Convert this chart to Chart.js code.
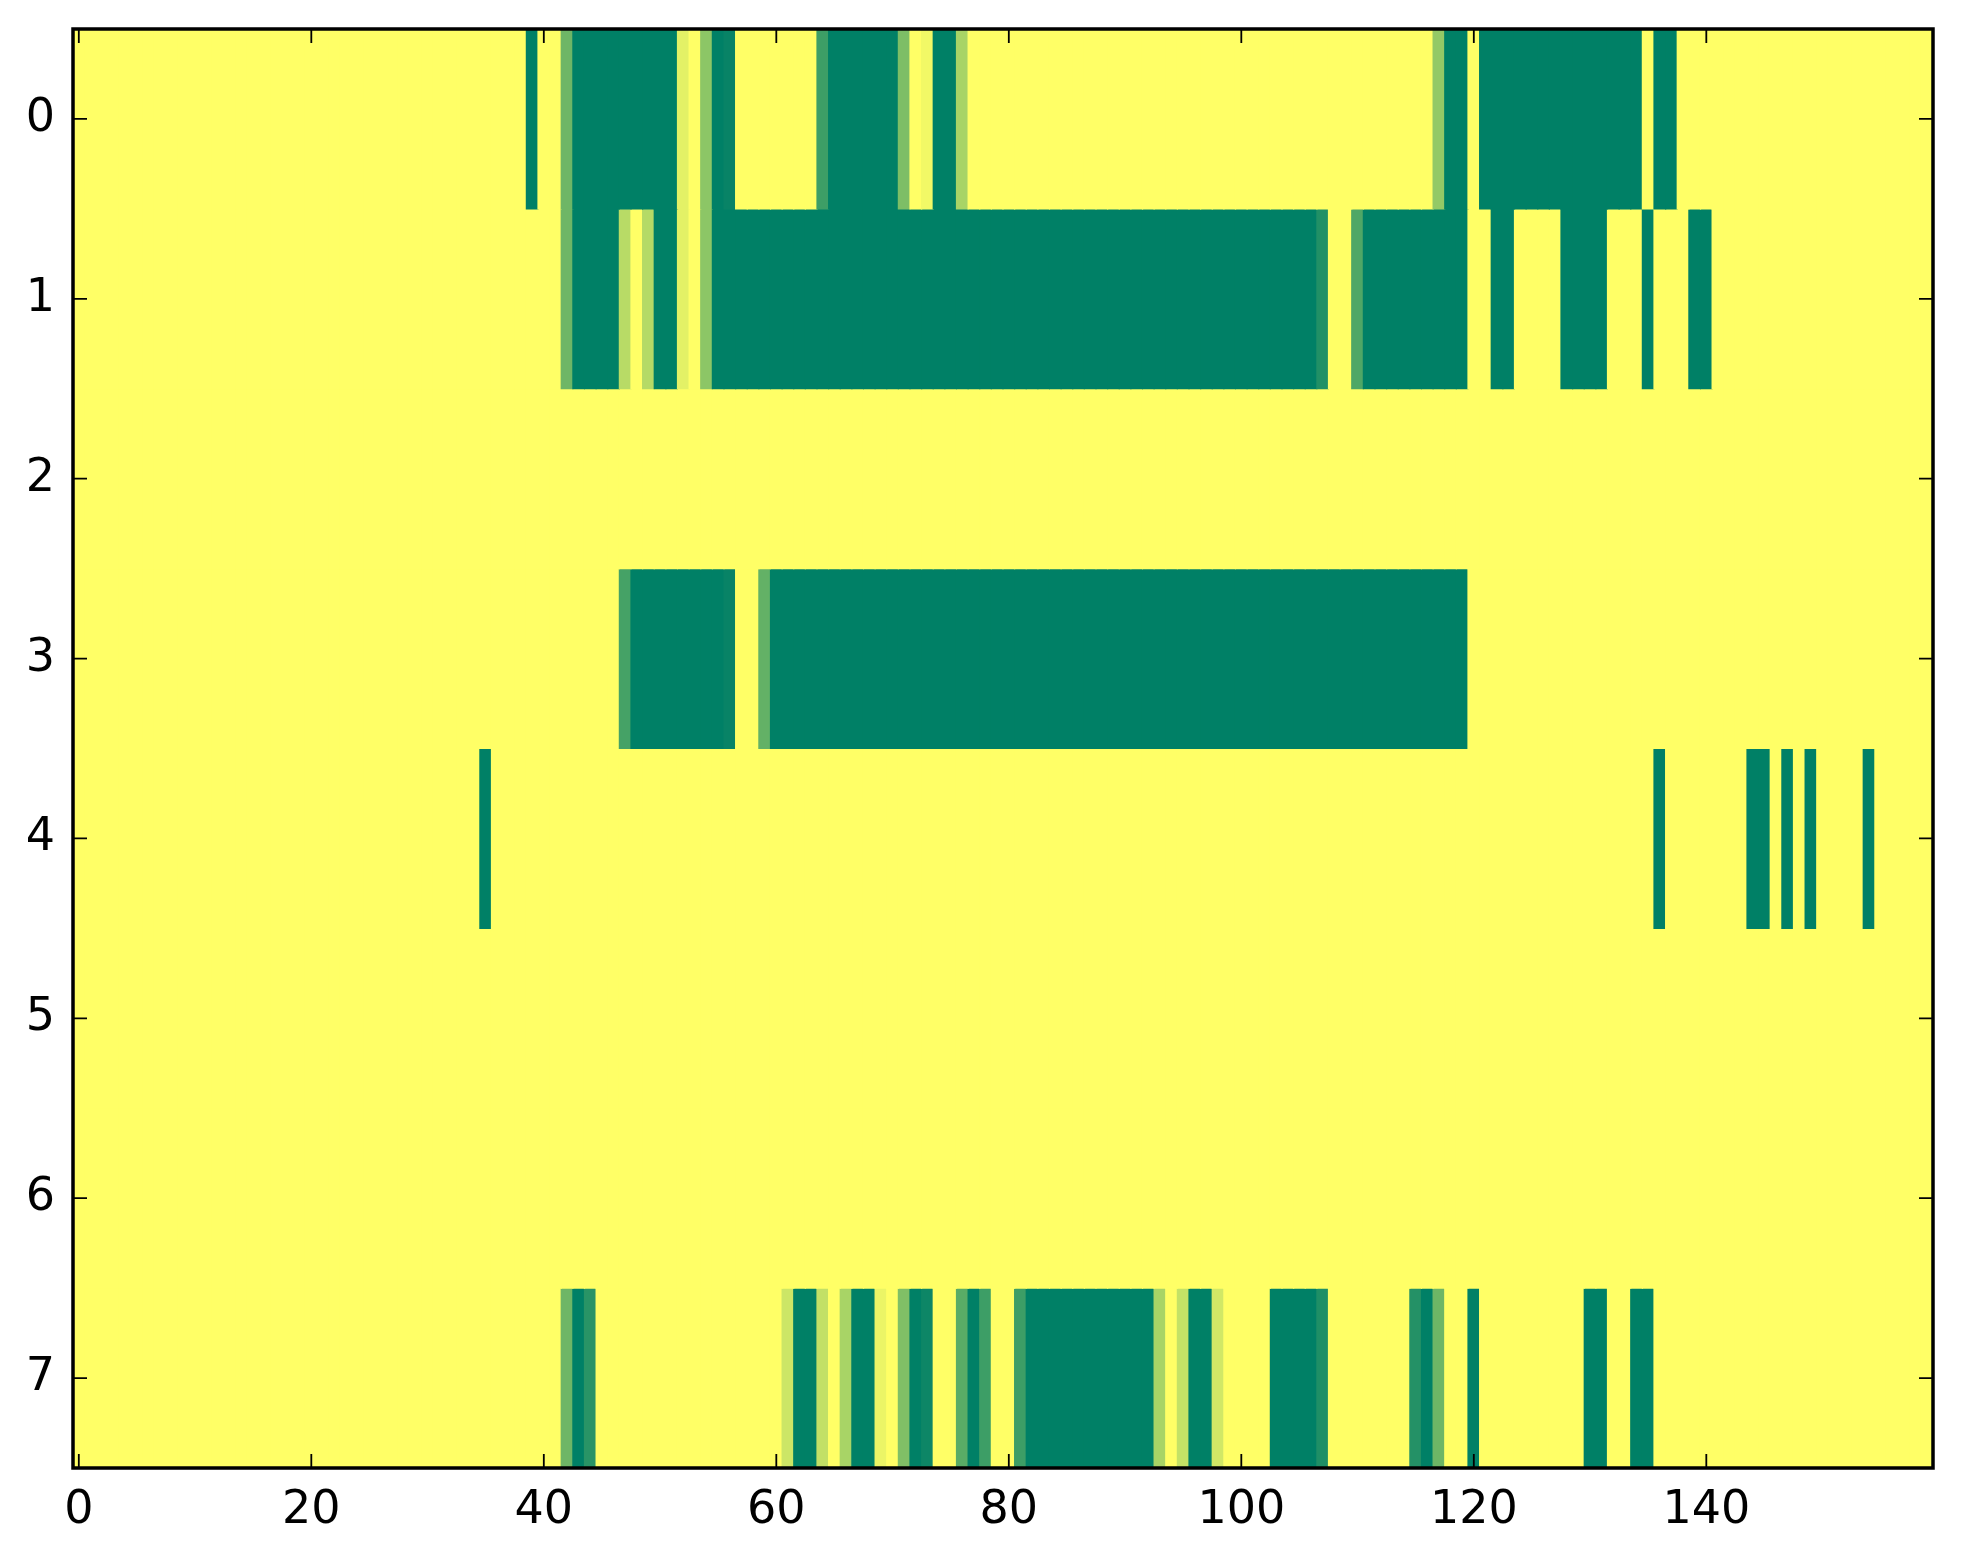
<!DOCTYPE html>
<html lang="en">
<head>
  <meta charset="UTF-8" />
  <title>Heatmap</title>
  <script src="https://cdn.jsdelivr.net/npm/chart.js"></script>
  <style>
    body {
      margin: 0;
      background: #ffffff;
    }
    #heat {
      display: block;
    }
  </style>
</head>
<body>
  <canvas id="heat" width="1963" height="1564"></canvas>

  <script>
    // rows of the image, 160 columns each (values 0..1, summer_r colour map)
    const rowLabels = ['0', '1', '2', '3', '4', '5', '6', '7'];
    const xTickValues = [0, 20, 40, 60, 80, 100, 120, 140];

    const row0 = [
      0,0,0,0,0,0,0,0,0,0,0,0,0,0,0,0,0,0,0,0,
      0,0,0,0,0,0,0,0,0,0,0,0,0,0,0,0,0,0,0,1,
      0,0,.57,1,1,1,1,1,1,1,1,1,.11,0,.45,1,.97,0,0,0,
      0,0,0,0,.76,1,1,1,1,1,1,.51,0,.05,1,1,.34,0,0,0,
      0,0,0,0,0,0,0,0,0,0,0,0,0,0,0,0,0,0,0,0,
      0,0,0,0,0,0,0,0,0,0,0,0,0,0,0,0,0,.42,1,1,
      0,1,1,1,1,1,1,1,1,1,1,1,1,1,1,0,1,1,0,0,
      0,0,0,0,0,0,0,0,0,0,0,0,0,0,0,0,0,0,0,0
    ];
    const row1 = [
      0,0,0,0,0,0,0,0,0,0,0,0,0,0,0,0,0,0,0,0,
      0,0,0,0,0,0,0,0,0,0,0,0,0,0,0,0,0,0,0,0,
      0,0,.57,1,1,1,1,.28,0,.29,1,1,.11,0,.45,1,1,1,1,1,
      1,1,1,1,1,1,1,1,1,1,1,1,1,1,1,1,1,1,1,1,
      1,1,1,1,1,1,1,1,1,1,1,1,1,1,1,1,1,1,1,1,
      1,1,1,1,1,1,1,.87,0,0,.69,1,1,1,1,1,1,1,1,1,
      0,0,1,1,0,0,0,0,1,1,1,1,0,0,0,1,0,0,0,1,
      1,0,0,0,0,0,0,0,0,0,0,0,0,0,0,0,0,0,0,0
    ];
    const row2 = [
      0,0,0,0,0,0,0,0,0,0,0,0,0,0,0,0,0,0,0,0,
      0,0,0,0,0,0,0,0,0,0,0,0,0,0,0,0,0,0,0,0,
      0,0,0,0,0,0,0,0,0,0,0,0,0,0,0,0,0,0,0,0,
      0,0,0,0,0,0,0,0,0,0,0,0,0,0,0,0,0,0,0,0,
      0,0,0,0,0,0,0,0,0,0,0,0,0,0,0,0,0,0,0,0,
      0,0,0,0,0,0,0,0,0,0,0,0,0,0,0,0,0,0,0,0,
      0,0,0,0,0,0,0,0,0,0,0,0,0,0,0,0,0,0,0,0,
      0,0,0,0,0,0,0,0,0,0,0,0,0,0,0,0,0,0,0,0
    ];
    const row3 = [
      0,0,0,0,0,0,0,0,0,0,0,0,0,0,0,0,0,0,0,0,
      0,0,0,0,0,0,0,0,0,0,0,0,0,0,0,0,0,0,0,0,
      0,0,0,0,0,0,0,.73,1,1,1,1,1,1,1,1,.97,0,0,.61,
      1,1,1,1,1,1,1,1,1,1,1,1,1,1,1,1,1,1,1,1,
      1,1,1,1,1,1,1,1,1,1,1,1,1,1,1,1,1,1,1,1,
      1,1,1,1,1,1,1,1,1,1,1,1,1,1,1,1,1,1,1,1,
      0,0,0,0,0,0,0,0,0,0,0,0,0,0,0,0,0,0,0,0,
      0,0,0,0,0,0,0,0,0,0,0,0,0,0,0,0,0,0,0,0
    ];
    const row4 = [
      0,0,0,0,0,0,0,0,0,0,0,0,0,0,0,0,0,0,0,0,
      0,0,0,0,0,0,0,0,0,0,0,0,0,0,0,1,0,0,0,0,
      0,0,0,0,0,0,0,0,0,0,0,0,0,0,0,0,0,0,0,0,
      0,0,0,0,0,0,0,0,0,0,0,0,0,0,0,0,0,0,0,0,
      0,0,0,0,0,0,0,0,0,0,0,0,0,0,0,0,0,0,0,0,
      0,0,0,0,0,0,0,0,0,0,0,0,0,0,0,0,0,0,0,0,
      0,0,0,0,0,0,0,0,0,0,0,0,0,0,0,0,1,0,0,0,
      0,0,0,0,1,1,0,1,0,1,0,0,0,0,1,0,0,0,0,0
    ];
    const row5 = [
      0,0,0,0,0,0,0,0,0,0,0,0,0,0,0,0,0,0,0,0,
      0,0,0,0,0,0,0,0,0,0,0,0,0,0,0,0,0,0,0,0,
      0,0,0,0,0,0,0,0,0,0,0,0,0,0,0,0,0,0,0,0,
      0,0,0,0,0,0,0,0,0,0,0,0,0,0,0,0,0,0,0,0,
      0,0,0,0,0,0,0,0,0,0,0,0,0,0,0,0,0,0,0,0,
      0,0,0,0,0,0,0,0,0,0,0,0,0,0,0,0,0,0,0,0,
      0,0,0,0,0,0,0,0,0,0,0,0,0,0,0,0,0,0,0,0,
      0,0,0,0,0,0,0,0,0,0,0,0,0,0,0,0,0,0,0,0
    ];
    const row6 = [
      0,0,0,0,0,0,0,0,0,0,0,0,0,0,0,0,0,0,0,0,
      0,0,0,0,0,0,0,0,0,0,0,0,0,0,0,0,0,0,0,0,
      0,0,0,0,0,0,0,0,0,0,0,0,0,0,0,0,0,0,0,0,
      0,0,0,0,0,0,0,0,0,0,0,0,0,0,0,0,0,0,0,0,
      0,0,0,0,0,0,0,0,0,0,0,0,0,0,0,0,0,0,0,0,
      0,0,0,0,0,0,0,0,0,0,0,0,0,0,0,0,0,0,0,0,
      0,0,0,0,0,0,0,0,0,0,0,0,0,0,0,0,0,0,0,0,
      0,0,0,0,0,0,0,0,0,0,0,0,0,0,0,0,0,0,0,0
    ];
    const row7 = [
      0,0,0,0,0,0,0,0,0,0,0,0,0,0,0,0,0,0,0,0,
      0,0,0,0,0,0,0,0,0,0,0,0,0,0,0,0,0,0,0,0,
      0,0,.57,1,.84,0,0,0,0,0,0,0,0,0,0,0,0,0,0,0,
      0,.2,1,1,.24,0,.34,1,1,.08,0,.5,1,.95,0,0,.65,1,.76,0,
      0,.76,1,1,1,1,1,1,1,1,1,1,1,.34,0,.23,1,1,.18,0,
      0,0,0,1,1,1,1,.88,0,0,0,0,0,0,0,.86,1,.57,0,0,
      1,0,0,0,0,0,0,0,0,0,1,1,0,0,1,1,0,0,0,0,
      0,0,0,0,0,0,0,0,0,0,0,0,0,0,0,0,0,0,0,0
    ];

    const rows = [row0, row1, row2, row3, row4, row5, row6, row7];

    // matplotlib summer_r
    function summerR(v) {
      const r = Math.round(255 * (1 - v));
      const g = Math.round(255 * (1 - 0.5 * v));
      return 'rgb(' + r + ',' + g + ',102)';
    }

    const datasets = rows.map((vals, r) => ({
      data: vals.map((v, c) => ({ x: [c - 0.5, c + 0.5], y: rowLabels[r] })),
      backgroundColor: vals.map(summerR),
      borderWidth: 0,
      inflateAmount: 0.6,
      barPercentage: 1,
      categoryPercentage: 1,
      grouped: false
    }));

    // inward ticks on all four sides + frame, like matplotlib classic
    const frameTicks = {
      id: 'frameTicks',
      afterDraw(chart) {
        const ctx = chart.ctx;
        const a = chart.chartArea;
        const x = chart.scales.x;
        const y = chart.scales.y;
        const len = 14;
        ctx.save();
        ctx.strokeStyle = '#000';
        ctx.lineWidth = 1.8;
        ctx.beginPath();
        x.ticks.forEach(t => {
          const px = x.getPixelForValue(t.value);
          ctx.moveTo(px, a.bottom);
          ctx.lineTo(px, a.bottom - len);
          ctx.moveTo(px, a.top);
          ctx.lineTo(px, a.top + len);
        });
        y.ticks.forEach((t, i) => {
          const py = y.getPixelForTick(i);
          ctx.moveTo(a.left, py);
          ctx.lineTo(a.left + len, py);
          ctx.moveTo(a.right, py);
          ctx.lineTo(a.right - len, py);
        });
        ctx.stroke();
        ctx.lineWidth = 3.5;
        ctx.strokeRect(a.left, a.top, a.right - a.left, a.bottom - a.top);
        ctx.restore();
      }
    };

    new Chart(document.getElementById('heat'), {
      type: 'bar',
      data: {
        labels: rowLabels,
        datasets: datasets
      },
      plugins: [frameTicks],
      options: {
        indexAxis: 'y',
        responsive: false,
        devicePixelRatio: 1,
        animation: false,
        layout: {
          padding: { top: 29, right: 30, left: 0, bottom: 0 }
        },
        plugins: {
          legend: { display: false },
          tooltip: { enabled: false }
        },
        scales: {
          x: {
            type: 'linear',
            position: 'bottom',
            min: -0.5,
            max: 159.5,
            afterBuildTicks: scale => {
              scale.ticks = xTickValues.map(v => ({ value: v }));
            },
            afterFit: scale => {
              scale.height = 96;
              scale.paddingLeft = 0;
              scale.paddingRight = 0;
            },
            grid: { display: false, drawTicks: false },
            border: { display: false },
            ticks: {
              color: '#000',
              padding: 15,
              maxRotation: 0,
              autoSkip: false,
              font: { family: 'DejaVu Sans', size: 46 }
            }
          },
          y: {
            type: 'category',
            position: 'left',
            afterFit: scale => {
              scale.width = 73;
              scale.paddingTop = 0;
              scale.paddingBottom = 0;
            },
            grid: { display: false, drawTicks: false },
            border: { display: false },
            ticks: {
              color: '#000',
              padding: 18,
              font: { family: 'DejaVu Sans', size: 46 }
            }
          }
        }
      }
    });
  </script>
</body>
</html>
